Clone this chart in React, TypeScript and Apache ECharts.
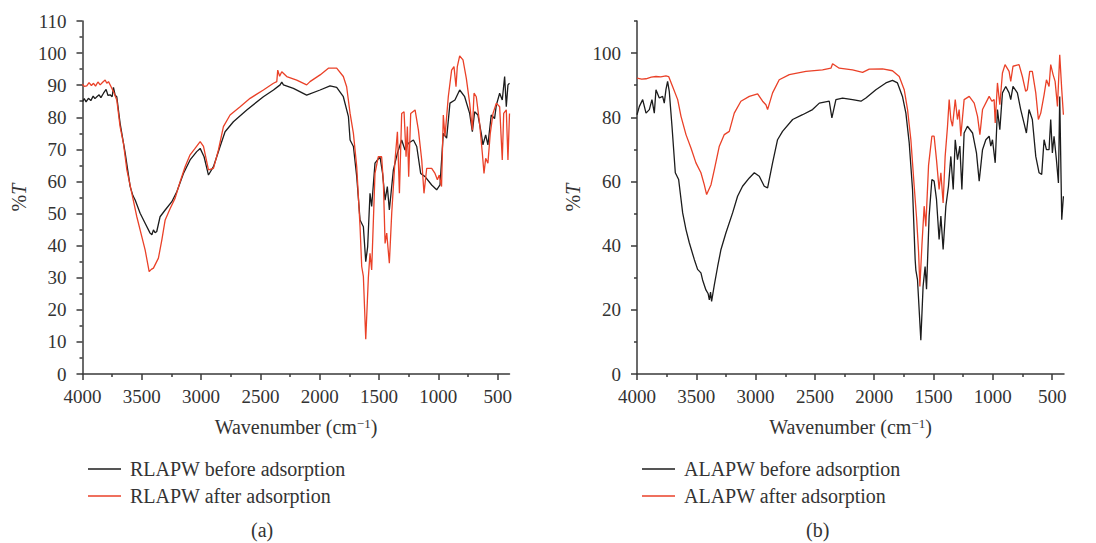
import React, { useEffect, useRef } from "react";
import * as echarts from "echarts";

// ---------- data ----------
const xMajorTicks = [4000, 3500, 3000, 2500, 2000, 1500, 1000, 500];
const xMinorTicks = [3750, 3250, 2750, 2250, 1750, 1250, 750];
const yTicksB = [0, 20, 40, 60, 80, 100];
const yMinorTicksB = [10, 30, 50, 70, 90, 110];

const legendA = ["RLAPW before adsorption", "RLAPW after adsorption"];
const legendB = ["ALAPW before adsorption", "ALAPW after adsorption"];

// (a) RLAPW before adsorption  [wavenumber, %T]
const rlapwBefore: number[][] = [
  [4000, 84.9], [3985, 85.8], [3970, 84.8], [3950, 85.9], [3930, 85.2], [3910, 86.6], [3895, 85.8], [3879, 86.4], [3860, 87.0], [3845, 86.1], [3823, 87.5], [3801, 88.7], [3785, 86.8], [3767, 87.0], [3750, 86.4], [3739, 89.3], [3725, 86.9], [3711, 86.4], [3683, 78.1], [3640, 68.8], [3598, 58.4], [3575, 55.6],
  [3556, 54.2], [3514, 50.1], [3472, 47.0], [3430, 43.9], [3415, 43.4], [3402, 44.9], [3388, 44.0], [3374, 44.4], [3346, 49.0], [3303, 51.1], [3247, 53.7],
  [3205, 56.8], [3149, 62.5], [3093, 66.7], [3037, 69.3], [3008, 70.3], [2975, 67.7], [2938, 62.0], [2896, 64.6], [2840, 70.9],
  [2798, 75.5], [2728, 78.6], [2615, 82.3], [2475, 86.4], [2390, 88.5], [2334, 90.1], [2320, 91.0], [2306, 90.1], [2222, 89.0], [2110, 86.9],
  [1997, 88.5], [1913, 89.8], [1857, 89.3], [1801, 86.4], [1758, 80.2], [1744, 72.9], [1716, 70.9], [1688, 61.5], [1660, 48.0],
  [1632, 45.9], [1612, 35.0], [1596, 39.6], [1576, 56.3], [1562, 52.2], [1534, 65.7], [1492, 67.7], [1470, 62.5], [1449, 54.2],
  [1430, 58.4], [1413, 51.1], [1379, 63.6], [1345, 68.8], [1309, 72.9], [1281, 69.8], [1253, 71.9], [1210, 72.9], [1182, 70.9],
  [1149, 62.5], [1112, 61.5], [1056, 58.9], [1014, 57.4], [986, 58.9], [958, 75.0], [930, 73.5], [902, 84.4], [860, 85.4],
  [820, 88.5], [778, 86.4], [736, 81.2], [713, 75.5], [694, 81.7], [666, 80.7], [638, 75.0], [624, 71.4], [601, 74.5],
  [582, 71.4], [554, 80.7], [526, 79.6], [511, 83.8], [483, 87.5], [461, 85.4], [441, 92.7], [427, 83.3], [413, 90.1], [400, 90.6],
];

// (a) RLAPW after adsorption
const rlapwAfter: number[][] = [
  [4000, 90.3], [3985, 89.6], [3964, 89.8], [3945, 90.8], [3925, 89.9], [3907, 90.6], [3890, 89.7], [3870, 91.0], [3851, 90.1], [3830, 90.9], [3809, 91.6], [3795, 90.6], [3781, 91.1], [3760, 89.6], [3739, 88.0],
  [3711, 85.4], [3683, 77.1], [3655, 71.9], [3626, 63.6], [3584, 56.3], [3542, 49.0], [3500, 42.8], [3472, 38.7], [3438, 31.9],
  [3420, 32.6], [3402, 33.0], [3360, 36.1], [3331, 41.8], [3303, 48.0], [3261, 51.6], [3219, 54.8], [3177, 59.9], [3135, 64.6], [3093, 68.3],
  [3051, 70.3], [3008, 72.4], [2980, 70.9], [2938, 63.6], [2896, 64.1], [2854, 69.8], [2812, 77.1], [2756, 80.7], [2671, 83.3],
  [2587, 85.9], [2475, 88.5], [2390, 90.6], [2362, 91.1], [2354, 94.7], [2338, 92.8], [2320, 94.2], [2278, 92.7], [2194, 91.6], [2110, 90.1],
  [2082, 91.1], [1997, 93.2], [1927, 95.3], [1857, 95.3], [1801, 92.7], [1773, 89.5], [1744, 81.2], [1716, 75.0], [1688, 64.6],
  [1660, 45.9], [1646, 33.5], [1632, 30.4], [1612, 10.8], [1590, 30.0], [1576, 37.6], [1562, 32.4], [1534, 62.5], [1506, 67.7],
  [1478, 67.7], [1463, 59.4], [1449, 40.7], [1435, 43.9], [1413, 34.5], [1393, 50.1], [1365, 66.7], [1345, 75.5], [1328, 56.3],
  [1309, 81.2], [1289, 81.7], [1272, 67.7], [1261, 77.1], [1250, 61.5], [1233, 81.2], [1196, 82.3], [1168, 76.0], [1140, 66.7],
  [1121, 56.3], [1098, 64.1], [1056, 64.1], [1028, 62.5], [1008, 60.5], [992, 62.0], [973, 58.4], [958, 80.7], [944, 74.0],
  [916, 86.4], [888, 94.7], [868, 95.8], [851, 89.5], [840, 95.8], [820, 99.1], [792, 97.9], [764, 92.1], [736, 84.4], [713, 76.0],
  [699, 87.5], [680, 86.4], [652, 78.1], [629, 68.8], [615, 62.5], [601, 67.2], [582, 65.7], [562, 75.0], [539, 81.2], [511, 84.4],
  [483, 83.3], [461, 66.7], [449, 81.2], [427, 82.3], [413, 66.7], [400, 81.2],
];

// (b) ALAPW before adsorption
const alapwBefore: number[][] = [
  [4000, 80.8], [3980, 83.4], [3952, 85.5], [3924, 81.3], [3896, 82.4], [3874, 85.5], [3854, 81.3], [3840, 88.6], [3812, 86.0],
  [3784, 86.5], [3770, 84.4], [3756, 88.6], [3742, 91.2], [3728, 88.1], [3705, 77.2], [3677, 62.7], [3649, 60.6], [3615, 50.2],
  [3587, 45.0], [3559, 40.9], [3517, 35.7], [3489, 32.6], [3461, 31.5], [3447, 29.3], [3419, 26.2], [3400, 25.0], [3390, 23.1], [3380, 25.5], [3371, 22.6],
  [3348, 27.8], [3320, 33.5], [3292, 38.8], [3250, 44.0], [3194, 50.2], [3152, 55.4], [3110, 58.5], [3053, 61.1], [3011, 62.7],
  [2969, 61.6], [2927, 58.5], [2899, 58.0], [2857, 65.8], [2815, 73.0], [2773, 75.6], [2688, 79.3], [2604, 80.8], [2520, 82.4],
  [2463, 84.4], [2379, 85.0], [2357, 79.8], [2323, 85.5], [2267, 86.0], [2183, 85.5], [2112, 85.0], [2070, 86.0], [1986, 88.6],
  [1902, 90.7], [1846, 91.5], [1804, 90.7], [1762, 86.5], [1733, 81.3], [1705, 72.0], [1677, 57.5], [1655, 35.7], [1649, 32.4],
  [1635, 29.3], [1607, 10.5], [1588, 27.3], [1571, 33.5], [1559, 26.4], [1537, 49.2], [1514, 60.6], [1495, 60.1], [1475, 54.4],
  [1453, 41.9], [1438, 49.2], [1419, 38.8], [1396, 52.3], [1374, 58.5], [1354, 67.8], [1334, 57.5], [1317, 73.0], [1298, 66.8],
  [1278, 71.0], [1261, 57.5], [1242, 75.1], [1214, 77.2], [1171, 75.1], [1138, 68.9], [1115, 60.1], [1087, 69.9], [1059, 73.0],
  [1031, 74.1], [1017, 71.0], [1003, 73.0], [980, 65.8], [961, 82.4], [941, 76.1], [919, 87.6], [891, 89.6], [863, 87.6],
  [849, 85.5], [830, 89.6], [793, 87.6], [765, 82.4], [737, 78.2], [717, 75.1], [695, 82.4], [667, 79.3], [638, 67.8],
  [610, 62.7], [588, 62.2], [568, 73.0], [548, 69.9], [526, 69.9], [512, 79.3], [498, 68.9], [484, 74.1], [464, 66.8],
  [447, 59.5], [436, 86.5], [419, 48.1], [405, 55.4],
];

// (b) ALAPW after adsorption
const alapwAfter: number[][] = [
  [4000, 92.2], [3960, 91.9], [3924, 92.0], [3880, 92.5], [3840, 92.7], [3800, 92.6], [3756, 92.9], [3733, 92.7], [3700, 89.6], [3657, 85.5],
  [3629, 80.3], [3587, 74.6], [3545, 70.4], [3503, 65.8], [3461, 62.7], [3433, 59.0], [3413, 55.9], [3376, 59.0], [3348, 63.7],
  [3306, 71.0], [3264, 74.6], [3222, 75.6], [3180, 81.3], [3124, 85.0], [3053, 86.5], [2983, 87.3], [2941, 85.0], [2913, 83.9],
  [2899, 82.4], [2857, 87.6], [2801, 91.7], [2716, 93.3], [2576, 94.3], [2436, 94.8], [2365, 95.3], [2351, 96.7], [2295, 95.3],
  [2183, 94.8], [2098, 94.0], [2042, 95.0], [1930, 95.1], [1846, 94.5], [1789, 92.7], [1747, 88.6], [1719, 82.4], [1691, 73.0],
  [1663, 58.5], [1643, 48.7], [1626, 38.0], [1615, 27.3], [1598, 40.0], [1579, 52.3], [1565, 46.0], [1542, 65.0], [1514, 74.1],
  [1495, 74.1], [1475, 66.8], [1453, 57.5], [1438, 62.7], [1419, 53.3], [1402, 67.8], [1382, 77.2], [1368, 85.5], [1354, 79.3],
  [1340, 77.2], [1317, 85.5], [1298, 79.3], [1284, 82.4], [1270, 74.1], [1242, 85.5], [1199, 86.5], [1157, 84.4], [1129, 80.3],
  [1109, 74.6], [1087, 82.4], [1045, 85.5], [1031, 86.5], [1008, 85.0], [989, 85.5], [980, 78.2], [961, 90.7], [941, 83.9],
  [919, 93.8], [897, 96.4], [863, 94.3], [849, 91.2], [830, 95.9], [779, 96.4], [751, 92.7], [723, 88.1], [709, 88.6],
  [689, 94.3], [667, 94.3], [638, 87.6], [616, 79.3], [596, 81.3], [568, 87.0], [548, 91.7], [526, 89.6], [512, 96.4],
  [492, 93.3], [475, 91.2], [455, 83.4], [436, 99.5], [419, 88.6], [405, 80.8],
];

// ---------- styles ----------
const FONT = "Liberation Serif";
const AXIS_COLOR = "#3a3a3a";
const TEXT_COLOR = "#333333";
const BLACK = "#1c1c1c";
const RED = "#ea4128";

const axisLine = { show: true, lineStyle: { color: AXIS_COLOR, width: 1.5 } };
const plain = (v: number) => String(v);

function xAxes(gridIndex: number) {
  const common = {
    type: "value",
    gridIndex,
    min: 400,
    max: 4000,
    inverse: true,
    position: "bottom",
    splitLine: { show: false },
  };
  return [
    {
      ...common,
      name: "Wavenumber (cm{sup|\u22121})",
      nameLocation: "middle",
      nameGap: 43,
      nameTextStyle: {
        fontFamily: FONT,
        fontSize: 20,
        color: TEXT_COLOR,
        rich: {
          sup: { fontFamily: FONT, fontSize: 13, color: TEXT_COLOR, verticalAlign: "top" },
        },
      },
      axisLine,
      axisTick: { show: true, inside: false, length: 6, customValues: xMajorTicks, lineStyle: { color: AXIS_COLOR, width: 1.5 } },
      axisLabel: { show: true, customValues: xMajorTicks, formatter: plain, margin: 13, fontFamily: FONT, fontSize: 19, color: TEXT_COLOR, showMinLabel: true, showMaxLabel: true },
    },
    {
      ...common,
      axisLine: { show: false },
      axisTick: { show: true, inside: false, length: 3, customValues: xMinorTicks, lineStyle: { color: AXIS_COLOR, width: 1.5 } },
      axisLabel: { show: false },
    },
  ];
}

const yName = {
  name: "{p|%}{i|T}",
  nameLocation: "middle",
  nameGap: 54,
  nameTextStyle: {
    fontFamily: FONT,
    fontSize: 20,
    color: TEXT_COLOR,
    rich: {
      p: { fontFamily: FONT, fontSize: 20, color: TEXT_COLOR },
      i: { fontFamily: FONT, fontSize: 20, color: TEXT_COLOR, fontStyle: "italic" },
    },
  },
};

const yLabel = { margin: 16, formatter: plain, fontFamily: FONT, fontSize: 19, color: TEXT_COLOR };

function lineSeries(name: string, data: number[][], color: string, xAxisIndex: number, yAxisIndex: number) {
  return {
    type: "line",
    name,
    data,
    xAxisIndex,
    yAxisIndex,
    showSymbol: false,
    symbol: "none",
    lineStyle: { color, width: 1.3 },
    itemStyle: { color },
    color,
    silent: true,
  };
}

export default function App() {
  const ref = useRef<HTMLDivElement>(null);

  useEffect(() => {
    if (!ref.current) return;
    const chart = echarts.init(ref.current, undefined, { renderer: "svg" });

    const legendCommon = {
      orient: "vertical",
      top: 454,
      itemWidth: 33,
      itemHeight: 1.5,
      itemGap: 7,
      icon: "rect",
      textStyle: { fontFamily: FONT, fontSize: 20, color: TEXT_COLOR, padding: [0, 0, 0, 4] },
      selectedMode: false,
    };

    const option: any = {
      animation: false,
      backgroundColor: "#ffffff",
      grid: [
        { left: 82.5, top: 21, width: 427, height: 353, containLabel: false },
        { left: 637, top: 21, width: 427, height: 353, containLabel: false },
      ],
      xAxis: [...xAxes(0), ...xAxes(1)],
      yAxis: [
        {
          type: "value",
          gridIndex: 0,
          min: 0,
          max: 110,
          interval: 10,
          ...yName,
          axisLine,
          splitLine: { show: false },
          axisTick: { show: true, length: 6, lineStyle: { color: AXIS_COLOR, width: 1.5 } },
          minorTick: { show: true, splitNumber: 2, length: 3, lineStyle: { color: AXIS_COLOR, width: 1.5 } },
          minorSplitLine: { show: false },
          axisLabel: yLabel,
        },
        {
          type: "value",
          gridIndex: 1,
          min: 0,
          max: 110,
          ...yName,
          axisLine,
          splitLine: { show: false },
          axisTick: { show: true, length: 6, customValues: yTicksB, lineStyle: { color: AXIS_COLOR, width: 1.5 } },
          axisLabel: { ...yLabel, customValues: yTicksB },
        },
        {
          type: "value",
          gridIndex: 1,
          min: 0,
          max: 110,
          position: "left",
          axisLine: { show: false },
          splitLine: { show: false },
          axisTick: { show: true, length: 3, customValues: yMinorTicksB, lineStyle: { color: AXIS_COLOR, width: 1.5 } },
          axisLabel: { show: false },
        },
      ],
      legend: [
        { ...legendCommon, data: legendA, left: 83 },
        { ...legendCommon, data: legendB, left: 637 },
      ],
      graphic: [
        { type: "text", left: 251, top: 520, style: { text: "(a)", font: `20px '${FONT}'`, fill: TEXT_COLOR } },
        { type: "text", left: 806, top: 520, style: { text: "(b)", font: `20px '${FONT}'`, fill: TEXT_COLOR } },
      ],
      series: [
        lineSeries(legendA[0], rlapwBefore, BLACK, 0, 0),
        lineSeries(legendA[1], rlapwAfter, RED, 0, 0),
        lineSeries(legendB[0], alapwBefore, BLACK, 2, 1),
        lineSeries(legendB[1], alapwAfter, RED, 2, 1),
      ],
    };

    chart.setOption(option);
    return () => {
      chart.dispose();
    };
  }, []);

  return (
    <div
      ref={ref}
      style={{ position: "absolute", left: 0, top: 0, width: 1096, height: 543, background: "#fff" }}
    />
  );
}
